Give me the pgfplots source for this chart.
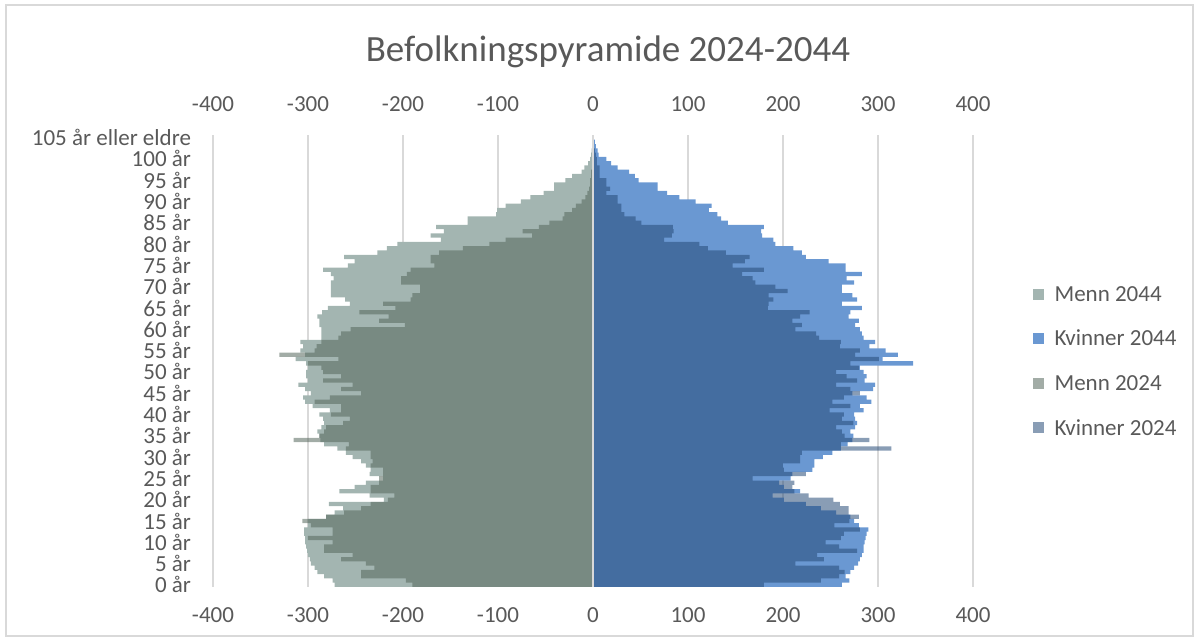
\documentclass[border=0pt]{standalone}
\usepackage{pgfplots}
\pgfplotsset{compat=1.18}
\usepackage{pgfplotstable}
\usepackage{fontspec}
\setmainfont{Carlito}

\definecolor{txt}{HTML}{595959}
\definecolor{gridc}{HTML}{D9D9D9}
\definecolor{menn44}{HTML}{A3B5B1}
\definecolor{kv44}{HTML}{6A98D2}
\definecolor{menn24}{HTML}{54665B}
\definecolor{kv24}{HTML}{254977}

% age, men (negative) and women, 2044 and 2024 (thousands)
\pgfplotstableread{
age m44 k44 m24 k24
0 -272 262 -190 180
1 -274 270 -197 240
2 -283 266 -244 259
3 -290 271 -244 265
4 -293 275 -230 259
5 -297 279 -239 213
6 -298 281 -265 243
7 -300 283 -253 236
8 -301 285 -283 278
9 -302 285 -283 259
10 -303 286 -274 245
11 -303 287 -300 261
12 -304 288 -274 264
13 -304 290 -274 281
14 -300 280 -297 254
15 -300 275 -306 270
16 -281 271 -281 280
17 -272 256 -262 269
18 -263 240 -244 269
19 -278 224 -234 260
20 -220 201 -216 253
21 -235 189 -209 227
22 -267 218 -234 212
23 -251 201 -234 210
24 -239 196 -225 212
25 -221 208 -225 168
26 -235 210 -221 224
27 -234 231 -221 201
28 -239 233 -234 200
29 -244 233 -232 218
30 -253 242 -234 218
31 -260 252 -234 220
32 -269 261 -260 314
33 -283 268 -257 261
34 -287 273 -315 291
35 -288 274 -288 265
36 -290 271 -283 262
37 -286 276 -281 256
38 -283 278 -263 274
39 -284 276 -256 262
40 -288 275 -276 264
41 -277 285 -265 249
42 -295 281 -265 271
43 -303 293 -293 252
44 -305 288 -277 264
45 -297 273 -244 281
46 -303 295 -265 271
47 -310 297 -253 256
48 -300 286 -284 278
49 -302 288 -265 267
50 -302 285 -284 256
51 -300 281 -286 280
52 -302 337 -300 271
53 -313 305 -268 301
54 -303 321 -330 276
55 -308 308 -293 281
56 -305 291 -291 260
57 -308 297 -286 261
58 -286 285 -268 238
59 -286 283 -265 235
60 -286 281 -255 213
61 -288 276 -198 220
62 -288 280 -225 210
63 -290 269 -215 218
64 -285 271 -246 228
65 -279 283 -208 184
66 -256 262 -221 185
67 -261 278 -192 190
68 -276 273 -190 185
69 -276 262 -182 205
70 -276 262 -182 192
71 -276 275 -202 171
72 -273 267 -202 168
73 -276 283 -196 157
74 -284 266 -192 180
75 -258 266 -167 147
76 -251 248 -171 160
77 -262 224 -171 165
78 -227 220 -162 140
79 -217 211 -137 121
80 -206 192 -109 112
81 -160 190 -92 75
82 -171 178 -64 83
83 -157 177 -74 85
84 -165 180 -57 84
85 -132 142 -46 51
86 -132 135 -32 45
87 -102 131 -30 33
88 -101 122 -22 30
89 -92 125 -18 30
90 -76 108 -12 26
91 -66 91 -8 26
92 -52 78 -6 14
93 -41 68 -4 18
94 -41 68 -3 14
95 -29 48 -3 14
96 -22 44 -2 7
97 -12 38 -2 7
98 -9 26 -1 7
99 -5 19 -1 4
100 -3 14 -0.5 4
101 -2 6 -0.3 3
102 -1.5 5 -0.2 2
103 -1 3 -0.1 1
104 -0.5 2 -0.1 0.5
105 -0.3 1 0 0.5
}\pyr

\begin{document}
\begin{tikzpicture}
\useasboundingbox (-106.5pt,-27pt) rectangle (492.5pt,293.5pt);
\draw[gridc, line width=0.6pt] (-103.5pt,-24.5pt) rectangle (490pt,291pt);
\node[anchor=base, font=\fontsize{18.5}{22}\selectfont, text=txt] at (197.5pt,262.5pt) {Befolkningspyramide 2024-2044};

\pgfplotsset{pyrbase/.style={
  at={(0,0)}, anchor=south west, scale only axis,
  width=380pt, height=225.75pt,
  xmin=-400, xmax=400, ymin=-0.5, ymax=105.5,
  xtick={-400,-300,...,400},
  axis line style={draw=none}, major tick length=0pt,
  tick label style={font=\fontsize{11.5}{13}\selectfont, text=txt},
  /pgf/number format/assume math mode=true,
}}

% top tick labels
\begin{axis}[pyrbase, ytick=\empty, xticklabel pos=upper,
  xticklabel style={yshift=8.5pt}]
\end{axis}

\begin{axis}[pyrbase,
  xticklabel style={yshift=-7pt},
  yticklabel style={xshift=-7.5pt},
  xmajorgrids, grid style={gridc, line width=0.7pt},
  ytick={0,5,...,105},
  yticklabels={0 år,5 år,10 år,15 år,20 år,25 år,30 år,35 år,40 år,45 år,50 år,
    55 år,60 år,65 år,70 år,75 år,80 år,85 år,90 år,95 år,100 år,105 år eller eldre},
  legend style={at={(1.070,0.678)}, anchor=north west, draw=none, fill=none,
    font=\fontsize{11.5}{13}\selectfont, text=txt, row sep=12.3pt, column sep=5.5pt,
    nodes={inner sep=0pt, text height=8pt, text depth=2pt}},
  legend cell align=left,
  legend image code/.code={\fill[#1] (0pt,-2.2pt) rectangle (5.5pt,3.3pt);},
]
\addplot[xbar, bar shift=0pt, bar width=1, draw=none, fill=menn44] table[x=m44, y=age] {\pyr};
\addplot[xbar, bar shift=0pt, bar width=1, draw=none, fill=kv44] table[x=k44, y=age] {\pyr};
\addplot[xbar, bar shift=0pt, bar width=1, draw=none, fill=menn24, fill opacity=0.54] table[x=m24, y=age] {\pyr};
\addplot[xbar, bar shift=0pt, bar width=1, draw=none, fill=kv24, fill opacity=0.54] table[x=k24, y=age] {\pyr};
\legend{Menn 2044, Kvinner 2044, Menn 2024, Kvinner 2024}
\draw[gridc, line width=0.8pt] (axis cs:0,-0.5) -- (axis cs:0,105.5);
\end{axis}
\end{tikzpicture}
\end{document}
